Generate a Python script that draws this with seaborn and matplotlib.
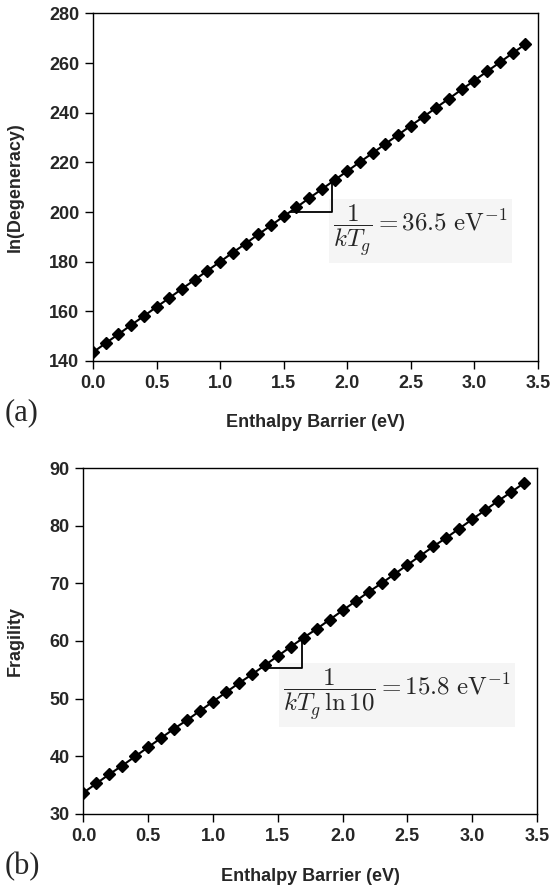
import matplotlib
matplotlib.use("Agg")
import matplotlib.pyplot as plt
import seaborn as sns
import pandas as pd

barrier = [0.0, 0.1, 0.2, 0.3, 0.4, 0.5, 0.6, 0.7, 0.8, 0.9,
           1.0, 1.1, 1.2, 1.3, 1.4, 1.5, 1.6, 1.7, 1.8, 1.9,
           2.0, 2.1, 2.2, 2.3, 2.4, 2.5, 2.6, 2.7, 2.8, 2.9,
           3.0, 3.1, 3.2, 3.3, 3.4]
ln_degeneracy = [143.5, 147.2, 150.8, 154.5, 158.1, 161.8, 165.4, 169.1, 172.7, 176.4,
                 180.0, 183.7, 187.3, 191.0, 194.6, 198.3, 201.9, 205.6, 209.2, 212.9,
                 216.5, 220.2, 223.8, 227.5, 231.1, 234.8, 238.4, 242.1, 245.7, 249.4,
                 253.0, 256.7, 260.3, 264.0, 267.6]
fragility = [33.7, 35.3, 36.9, 38.4, 40.0, 41.6, 43.2, 44.8, 46.3, 47.9,
             49.5, 51.1, 52.7, 54.2, 55.8, 57.4, 59.0, 60.6, 62.1, 63.7,
             65.3, 66.9, 68.5, 70.0, 71.6, 73.2, 74.8, 76.4, 77.9, 79.5,
             81.1, 82.7, 84.3, 85.8, 87.4]

x_ticks = [0.0, 0.5, 1.0, 1.5, 2.0, 2.5, 3.0, 3.5]
y_ticks_a = [140, 160, 180, 200, 220, 240, 260, 280]
y_ticks_b = [30, 40, 50, 60, 70, 80, 90]

# slope triangles (x0, x1, y_base, y_top)
tri_a = (1.55, 1.878, 200.1, 212.0)
tri_b = (1.367, 1.686, 55.3, 60.3)

sns.set_theme(style="ticks")
plt.rcParams['font.family'] = ['Liberation Sans', 'DejaVu Sans']
plt.rcParams['mathtext.fontset'] = 'cm'

FS = 13
fig = plt.figure(figsize=(5.54, 8.94), dpi=100)
ax1 = fig.add_axes([0.1679, 0.5962, 0.9711 - 0.1679, 0.9849 - 0.5962])
ax2 = fig.add_axes([0.1507, 0.0895, 0.9693 - 0.1507, 0.4765 - 0.0895])

df = pd.DataFrame({"barrier": barrier, "lnd": ln_degeneracy, "frag": fragility})

for ax, col, yt, ylabel, tri, ylx, xly in [
    (ax1, "lnd", y_ticks_a, "ln(Degeneracy)", tri_a, -0.175, -0.178),
    (ax2, "frag", y_ticks_b, "Fragility", tri_b, -0.151, -0.182),
]:
    sns.lineplot(data=df, x="barrier", y=col, ax=ax, color="black", marker="D",
                 markersize=6.5, markeredgecolor="black", markeredgewidth=1.0,
                 linewidth=1.5, zorder=3)
    ax.set_xlim(0, 3.5)
    ax.set_ylim(yt[0], yt[-1])
    ax.set_xticks(x_ticks)
    ax.set_xticklabels([f"{v:.1f}" for v in x_ticks], fontweight="bold", fontsize=FS)
    ax.set_yticks(yt)
    ax.set_yticklabels([str(v) for v in yt], fontweight="bold", fontsize=FS)
    ax.set_xlabel("Enthalpy Barrier (eV)", fontweight="bold", fontsize=FS)
    ax.set_ylabel(ylabel, fontweight="bold", fontsize=FS)
    ax.xaxis.set_label_coords(0.5, xly)
    ax.xaxis.label.set_va("center")
    ax.yaxis.set_label_coords(ylx, 0.5)
    ax.yaxis.label.set_va("center")
    for s in ax.spines.values():
        s.set_visible(True)
        s.set_color("black")
        s.set_linewidth(1.0)
    ax.tick_params(axis="both", direction="out", length=6, width=1, color="black", pad=4)
    ax.tick_params(top=False, right=False)
    x0, x1, yb, ytop = tri
    ax.plot([x0, x1, x1], [yb, yb, ytop], color="black", linewidth=1.3, zorder=3)

ax1.text(1.888, 192.5, r"$\dfrac{1}{kT_g} = 36.5\ \mathrm{eV}^{-1}$", fontsize=18,
         ha="left", va="center", zorder=1,
         bbox=dict(facecolor="#f5f5f5", edgecolor="none", pad=3))
ax2.text(1.54, 50.7, r"$\dfrac{1}{kT_g\,\ln 10} = 15.8\ \mathrm{eV}^{-1}$", fontsize=18,
         ha="left", va="center", zorder=1,
         bbox=dict(facecolor="#f5f5f5", edgecolor="none", pad=3))

fig.text(0.008, 0.538, "(a)", fontsize=22, family="Liberation Serif", ha="left", va="center")
fig.text(0.008, 0.031, "(b)", fontsize=22, family="Liberation Serif", ha="left", va="center")

fig.savefig("out.png", dpi=100, facecolor="white")
